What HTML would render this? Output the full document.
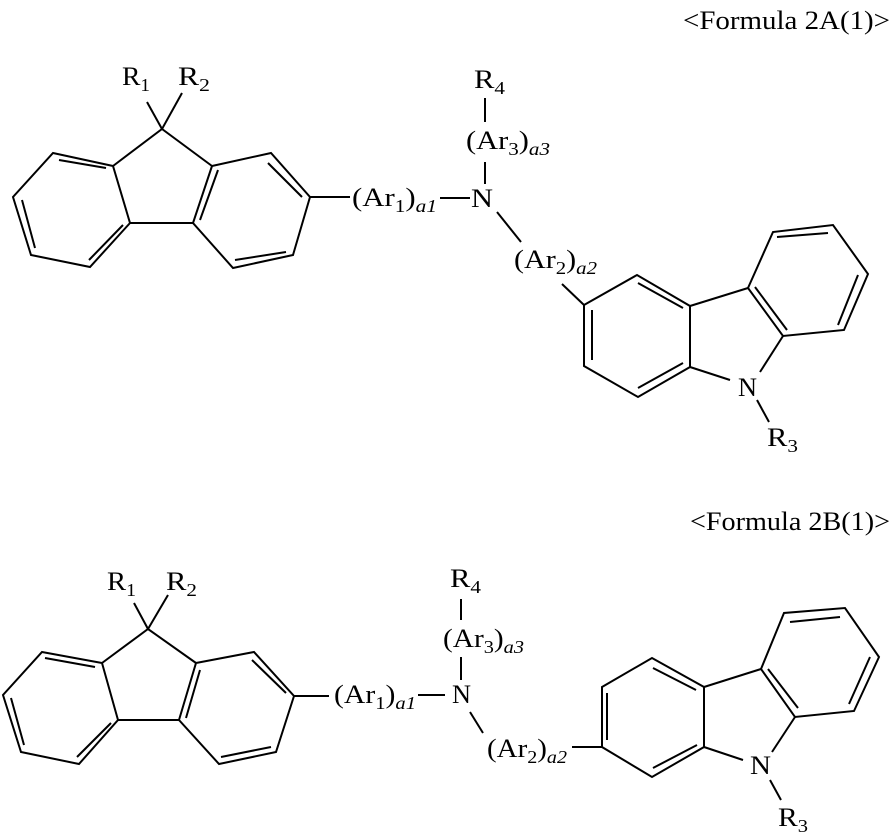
<!DOCTYPE html>
<html><head><meta charset="utf-8"><style>
html,body{margin:0;padding:0;background:#fff;}
svg{display:block;}
text{font-family:"Liberation Serif",serif;font-size:26px;fill:#000;}
.s{font-size:18px;}
.i{font-style:italic;}
</style></head><body>
<svg width="892" height="834" viewBox="0 0 892 834" xmlns="http://www.w3.org/2000/svg">
<g stroke="#000" stroke-width="2" fill="none" stroke-linejoin="miter">
<polygon points="53,153 113,166 130,223 90,267 31,255 13,197"/>
<polyline points="113,166 162,129 212,166"/>
<line x1="130" y1="223" x2="193" y2="223"/>
<polygon points="212,166 271,153 310,197 293,255 233,268 193,223"/>
<line x1="59" y1="160" x2="106" y2="168"/>
<line x1="22" y1="200" x2="35" y2="248"/>
<line x1="89" y1="260" x2="123" y2="225"/>
<line x1="218" y1="170" x2="200" y2="220"/>
<line x1="268" y1="163" x2="302" y2="197"/>
<line x1="235" y1="260" x2="286" y2="252"/>
<line x1="147" y1="102" x2="162" y2="129"/>
<line x1="182" y1="93" x2="162" y2="129"/>
<line x1="310" y1="197" x2="350" y2="197"/>
<line x1="440" y1="198" x2="470" y2="198"/>
<line x1="485" y1="162" x2="485" y2="184"/>
<line x1="485" y1="98" x2="485" y2="122"/>
<line x1="497" y1="212" x2="521" y2="242"/>
<line x1="562" y1="284" x2="584" y2="305"/>
<polygon points="584,305 637,275 690,306 690,367 638,397 584,366"/>
<polygon points="748,288 773,232 833,225 868,274 844,330 783,336"/>
<line x1="690" y1="306" x2="748" y2="288"/>
<line x1="690" y1="367" x2="730" y2="380"/>
<line x1="783" y1="336" x2="760" y2="372"/>
<line x1="592" y1="310" x2="592" y2="360"/>
<line x1="638" y1="283" x2="683" y2="308"/>
<line x1="638" y1="388" x2="683" y2="363"/>
<line x1="755" y1="287" x2="787" y2="330"/>
<line x1="777" y1="237" x2="828" y2="233"/>
<line x1="858" y1="275" x2="838" y2="325"/>
<line x1="757" y1="400" x2="769" y2="422"/>
<polygon points="42,652 102,663 118,720 79,764 21,752 3,695"/>
<polyline points="102,663 148,629 196,663"/>
<line x1="118" y1="720" x2="179" y2="720"/>
<polygon points="196,663 254,652 294,696 276,752 219,764 179,720"/>
<line x1="45" y1="658" x2="95" y2="667"/>
<line x1="11" y1="698" x2="24" y2="745"/>
<line x1="77" y1="757" x2="111" y2="723"/>
<line x1="200" y1="670" x2="186" y2="718"/>
<line x1="252" y1="660" x2="286" y2="693"/>
<line x1="221" y1="757" x2="271" y2="747"/>
<line x1="134" y1="603" x2="148" y2="629"/>
<line x1="168" y1="595" x2="148" y2="629"/>
<line x1="294" y1="696" x2="329" y2="696"/>
<line x1="418" y1="695" x2="445" y2="695"/>
<line x1="461" y1="599" x2="461" y2="620"/>
<line x1="461" y1="657" x2="461" y2="680"/>
<line x1="470" y1="712" x2="483" y2="733"/>
<line x1="572" y1="747" x2="602" y2="747"/>
<polygon points="602,687 652,658 704,687 704,747 652,777 602,747"/>
<polygon points="761,669 784,613 845,608 879,657 854,711 795,717"/>
<line x1="704" y1="687" x2="761" y2="669"/>
<line x1="704" y1="747" x2="743" y2="760"/>
<line x1="795" y1="717" x2="772" y2="752"/>
<line x1="607" y1="693" x2="607" y2="740"/>
<line x1="653" y1="668" x2="696" y2="690"/>
<line x1="653" y1="768" x2="697" y2="745"/>
<line x1="768" y1="669" x2="798" y2="708"/>
<line x1="790" y1="622" x2="840" y2="617"/>
<line x1="870" y1="657" x2="849" y2="704"/>
<line x1="770" y1="780" x2="781" y2="800"/>
</g>
<text x="683" y="29" textLength="207" lengthAdjust="spacingAndGlyphs">&lt;Formula 2A(1)&gt;</text>
<text x="122" y="85" textLength="28" lengthAdjust="spacingAndGlyphs">R<tspan class="s" dy="6">1</tspan></text>
<text x="178" y="85" textLength="32" lengthAdjust="spacingAndGlyphs">R<tspan class="s" dy="6">2</tspan></text>
<text x="474" y="88" textLength="31" lengthAdjust="spacingAndGlyphs">R<tspan class="s" dy="6">4</tspan></text>
<text x="466" y="149" textLength="84" lengthAdjust="spacingAndGlyphs">(Ar<tspan class="s" dy="6">3</tspan><tspan dy="-6">)</tspan><tspan class="s i" dy="6">a3</tspan></text>
<text x="352" y="206" textLength="85" lengthAdjust="spacingAndGlyphs">(Ar<tspan class="s" dy="6">1</tspan><tspan dy="-6">)</tspan><tspan class="s i" dy="6">a1</tspan></text>
<text x="471" y="207" textLength="22" lengthAdjust="spacingAndGlyphs">N</text>
<text x="514" y="268" textLength="83" lengthAdjust="spacingAndGlyphs">(Ar<tspan class="s" dy="6">2</tspan><tspan dy="-6">)</tspan><tspan class="s i" dy="6">a2</tspan></text>
<text x="738" y="396" textLength="19" lengthAdjust="spacingAndGlyphs">N</text>
<text x="767" y="446" textLength="31" lengthAdjust="spacingAndGlyphs">R<tspan class="s" dy="6">3</tspan></text>
<text x="690" y="530" textLength="200" lengthAdjust="spacingAndGlyphs">&lt;Formula 2B(1)&gt;</text>
<text x="107" y="590" textLength="29" lengthAdjust="spacingAndGlyphs">R<tspan class="s" dy="6">1</tspan></text>
<text x="166" y="590" textLength="31" lengthAdjust="spacingAndGlyphs">R<tspan class="s" dy="6">2</tspan></text>
<text x="450" y="587" textLength="31" lengthAdjust="spacingAndGlyphs">R<tspan class="s" dy="6">4</tspan></text>
<text x="443" y="647" textLength="81" lengthAdjust="spacingAndGlyphs">(Ar<tspan class="s" dy="6">3</tspan><tspan dy="-6">)</tspan><tspan class="s i" dy="6">a3</tspan></text>
<text x="334" y="703" textLength="82" lengthAdjust="spacingAndGlyphs">(Ar<tspan class="s" dy="6">1</tspan><tspan dy="-6">)</tspan><tspan class="s i" dy="6">a1</tspan></text>
<text x="452" y="703" textLength="19" lengthAdjust="spacingAndGlyphs">N</text>
<text x="487" y="757" textLength="80" lengthAdjust="spacingAndGlyphs">(Ar<tspan class="s" dy="6">2</tspan><tspan dy="-6">)</tspan><tspan class="s i" dy="6">a2</tspan></text>
<text x="750" y="774" textLength="21" lengthAdjust="spacingAndGlyphs">N</text>
<text x="778" y="826" textLength="30" lengthAdjust="spacingAndGlyphs">R<tspan class="s" dy="6">3</tspan></text>
</svg>
</body></html>
